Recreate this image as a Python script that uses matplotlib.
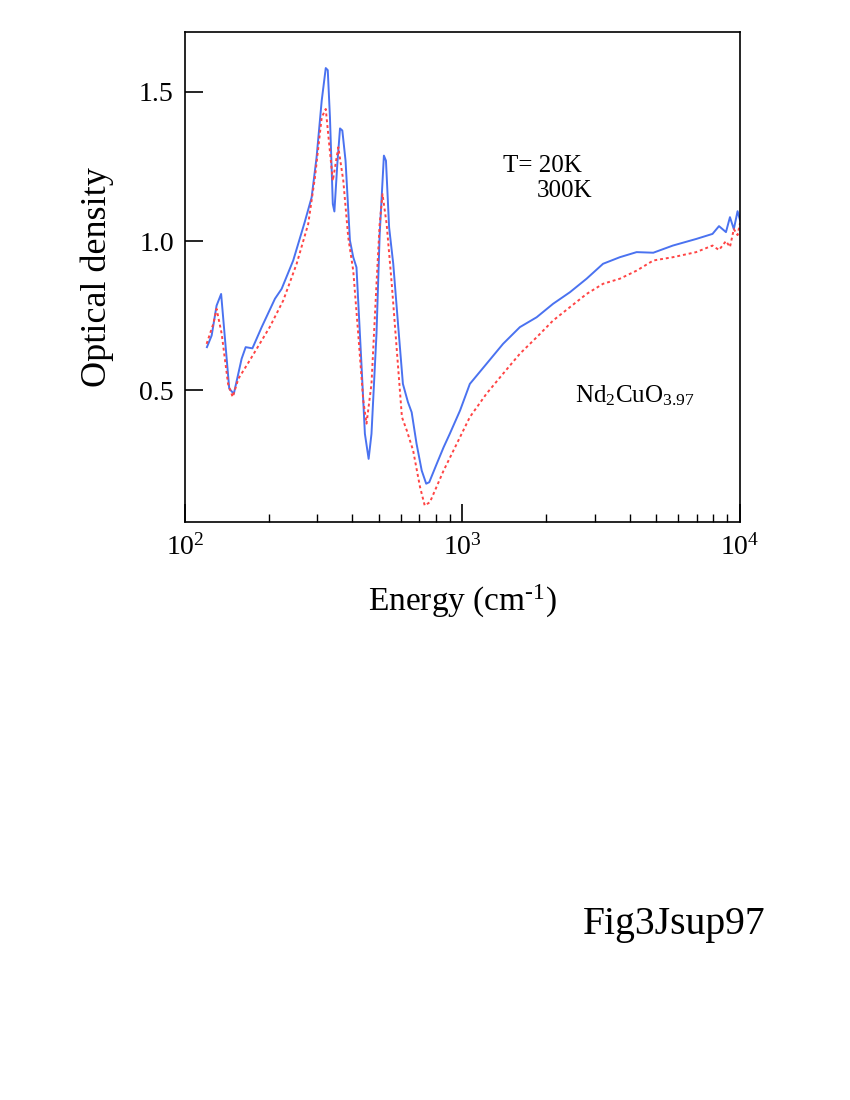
import matplotlib
matplotlib.use("Agg")
import matplotlib.pyplot as plt
from matplotlib.ticker import LogLocator, NullFormatter, FixedLocator

plt.rcParams['font.family'] = ['Liberation Serif', 'DejaVu Serif']
plt.rcParams['mathtext.fontset'] = 'custom'
plt.rcParams['mathtext.rm'] = 'Liberation Serif'
plt.rcParams['mathtext.it'] = 'Liberation Serif:italic'
plt.rcParams['mathtext.bf'] = 'Liberation Serif:bold'

# T = 20 K (solid blue)
e20 = [120, 124.8, 130, 135, 144.4, 150, 160, 165.5, 175, 189, 211, 223, 245.5, 270, 286,
       298, 311, 321.6, 327, 333, 341, 345.5, 354, 362, 369, 379, 393, 404, 415, 433, 445,
       459, 470, 490, 503, 521, 530, 544, 563, 587, 610, 636, 656, 683, 713, 740, 759, 808,
       855, 900, 980, 1063, 1220, 1400, 1610, 1850, 2120, 2440, 2800, 3210, 3690, 4240,
       4870, 5730, 6950, 7960, 8400, 8900, 9200, 9500, 9800, 10000]
od20 = [0.645, 0.684, 0.784, 0.823, 0.506, 0.489, 0.606, 0.645, 0.641, 0.712, 0.807, 0.840,
        0.935, 1.063, 1.146, 1.280, 1.470, 1.579, 1.572, 1.414, 1.124, 1.099, 1.258, 1.377,
        1.370, 1.269, 1.002, 0.946, 0.912, 0.578, 0.355, 0.271, 0.355, 0.690, 1.022, 1.286,
        1.269, 1.046, 0.924, 0.712, 0.522, 0.461, 0.427, 0.322, 0.232, 0.188, 0.193, 0.255,
        0.310, 0.355, 0.433, 0.522, 0.589, 0.656, 0.712, 0.745, 0.790, 0.829, 0.874, 0.924,
        0.946, 0.963, 0.961, 0.985, 1.007, 1.024, 1.05, 1.03, 1.08, 1.04, 1.10, 1.07]

# T = 300 K (dotted red)
e300 = [119.7, 126.5, 130, 135.6, 143, 148.6, 155.7, 171, 202, 226, 252.6, 278, 294, 311,
        321.6, 330, 341, 357, 372, 387.5, 404, 421, 439, 451, 470, 490, 503, 515, 533, 556,
        580, 605, 630, 664, 703, 731, 763, 855, 980, 1063, 1220, 1400, 1610, 1850, 2120,
        2440, 2800, 3210, 3690, 4240, 4870, 5730, 6950, 7960, 8400, 8900, 9200, 9500, 9800,
        10000]
od300 = [0.656, 0.723, 0.773, 0.690, 0.522, 0.478, 0.539, 0.600, 0.712, 0.801, 0.924, 1.057,
         1.213, 1.414, 1.442, 1.336, 1.202, 1.314, 1.202, 1.013, 0.901, 0.690, 0.467, 0.389,
         0.522, 0.857, 1.057, 1.157, 1.057, 0.857, 0.634, 0.411, 0.366, 0.299, 0.177, 0.115,
         0.126, 0.232, 0.344, 0.411, 0.489, 0.556, 0.623, 0.678, 0.734, 0.779, 0.823, 0.857,
         0.874, 0.901, 0.935, 0.946, 0.963, 0.985, 0.97, 1.00, 0.98, 1.04, 1.02, 1.06]

fig = plt.figure(figsize=(8.5, 11), dpi=100)
ax = fig.add_axes([0.2176, 0.5255, 0.653, 0.4455])

ax.plot(e20, od20, color='#4a72f0', lw=1.4)
ax.plot(e300, od300, color='#ff4444', lw=1.4, linestyle=(0, (1.5, 1.5)))

ax.set_xscale('log')
ax.set_xlim(100, 10000)
ax.set_ylim(0.06, 1.70)
ax.yaxis.set_major_locator(FixedLocator([0.5, 1.0, 1.5]))
ax.set_yticklabels(['0.5', '1.0', '1.5'])
ax.xaxis.set_major_locator(FixedLocator([100, 1000, 10000]))
ax.set_xticklabels(['$10^2$', '$10^3$', '$10^4$'])
ax.xaxis.set_minor_locator(LogLocator(base=10, subs=range(2, 10)))
ax.xaxis.set_minor_formatter(NullFormatter())

ax.tick_params(which='major', direction='in', length=13, width=1.2, labelsize=20, pad=8)
ax.tick_params(axis='x', which='major', pad=9)
ax.tick_params(which='minor', direction='in', length=6, width=1.0)
ax.tick_params(axis='y', which='minor', left=False)
for s in ax.spines.values():
    s.set_linewidth(1.2)

ax.set_xlabel('Energy (cm$^{\u2010 1}$)', fontsize=24, labelpad=16)
ax.set_ylabel('Optical density', fontsize=26, labelpad=18)

fig.text(503 / 850, 1 - 172 / 1100, 'T= 20K', fontsize=18)
fig.text(537 / 850, 1 - 197 / 1100, '300K', fontsize=18)
fig.text(575 / 850, 1 - 402 / 1100, 'Nd$_2$CuO$_{3.97}$', fontsize=18)
fig.text(583 / 850, 1 - 934 / 1100, 'Fig3Jsup97', fontsize=28.5)

fig.savefig('out.png', dpi=100)
